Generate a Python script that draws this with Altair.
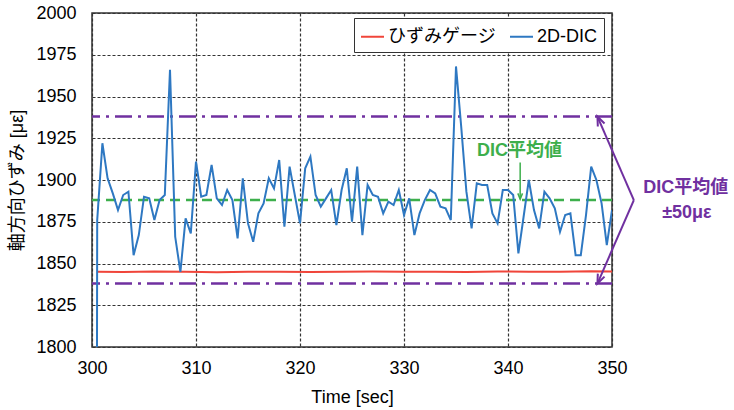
import altair as alt
import pandas as pd

# ---------------- data ----------------
# 2D-DIC axial strain, sampled every 0.5 s from 300.0 s to 350.0 s
dic_value = [
    0, 1876, 1922, 1901, 1892, 1882, 1891, 1893, 1855, 1867,      # 300.0-304.5
    1890, 1889, 1876, 1888, 1891, 1966, 1866, 1845, 1877, 1868,   # 305.0-309.5
    1911, 1890, 1891, 1909, 1889, 1885, 1894, 1888, 1865, 1901,   # 310.0-314.5
    1874, 1863, 1880, 1886, 1901, 1895, 1912, 1872, 1908, 1891,   # 315.0-319.5
    1874, 1907, 1914, 1891, 1884, 1889, 1894, 1873, 1894, 1907,   # 320.0-324.5
    1875, 1908, 1867, 1897, 1891, 1890, 1880, 1887, 1885, 1894,   # 325.0-329.5
    1879, 1889, 1867, 1880, 1888, 1894, 1892, 1884, 1883, 1876,   # 330.0-334.5
    1968, 1932, 1893, 1871, 1898, 1897, 1897, 1880, 1874, 1894,   # 335.0-339.5
    1894, 1891, 1856, 1878, 1900, 1882, 1871, 1893, 1889, 1883,   # 340.0-344.5
    1869, 1879, 1880, 1855, 1855, 1879, 1908, 1900, 1886, 1861,   # 345.0-349.5
    1882,                                                         # 350.0
]
dic_time = [300.0 + 0.5 * i for i in range(len(dic_value))]

# strain gauge
gauge_time = [300.5, 303, 306, 309, 312, 315, 318, 321, 324, 327,
              330, 333, 336, 339, 342, 345, 348, 350]
gauge_value = [1845.1, 1844.9, 1845.2, 1845.0, 1844.8, 1845.1, 1845.0, 1844.9, 1845.1, 1845.2,
               1845.0, 1845.1, 1844.9, 1845.2, 1845.1, 1845.0, 1845.3, 1845.2]

series_names = ["ひずみゲージ", "2D-DIC"]
series_colors = ["#f0453a", "#2e78c2"]

dic_mean = 1888
band = 50

x_ticks = [300, 310, 320, 330, 340, 350]
y_ticks = [1800, 1825, 1850, 1875, 1900, 1925, 1950, 1975, 2000]

# annotation texts / anchor positions (data units)
band_label = ["DIC平均値", "±50με"]
band_label_x = [357.1, 357.2]
band_label_y = [1895, 1880]
band_arrow_from = (352.1, dic_mean)
band_arrow_to_x = [348.6, 348.6]
band_arrow_to_y = [dic_mean + band, dic_mean - band]
band_arrow_angle = [336, 204]

mean_label = "DIC平均値"
mean_label_pos = (341.1, 1917.5)
mean_arrow_x = 341.17
mean_arrow_y = [1910.5, dic_mean + 0.5]

# ---------------- styling ----------------
FONT = "Liberation Sans, Noto Sans CJK JP, sans-serif"
GREEN = "#3daf4c"
PURPLE = "#7030a0"

line_df = pd.concat([
    pd.DataFrame({"t": gauge_time, "v": gauge_value, "series": series_names[0]}),
    pd.DataFrame({"t": dic_time, "v": dic_value, "series": series_names[1]}),
], ignore_index=True)

xscale = alt.Scale(domain=[300, 350], nice=False, zero=False)
yscale = alt.Scale(domain=[1800, 2000], nice=False, zero=False)

x_axis = alt.Axis(values=x_ticks, title="Time [sec]", format="d", labelFlush=False)
y_axis = alt.Axis(values=y_ticks, title="軸方向ひずみ [με]", format="d", labelFlush=False)

lines = alt.Chart(line_df).mark_line(clip=True, strokeWidth=2).encode(
    x=alt.X("t:Q", scale=xscale, axis=x_axis),
    y=alt.Y("v:Q", scale=yscale, axis=y_axis),
    color=alt.Color(
        "series:N",
        scale=alt.Scale(domain=series_names, range=series_colors),
        legend=alt.Legend(
            title=None, orient="none", legendX=262, legendY=5,
            direction="horizontal", symbolType="stroke", symbolSize=529,
            symbolStrokeWidth=2, labelFontSize=18, labelFont=FONT,
            labelColor="black", padding=6, columnPadding=10, labelOffset=3,
            strokeColor="#333333", fillColor="white", cornerRadius=0,
        ),
    ),
)

mean_rule = alt.Chart(pd.DataFrame({"v": [dic_mean]})).mark_rule(
    color=GREEN, strokeDash=[10, 6], strokeWidth=2.5
).encode(y=alt.Y("v:Q", scale=yscale))

band_rule = alt.Chart(pd.DataFrame({"v": [dic_mean + band, dic_mean - band]})).mark_rule(
    color=PURPLE, strokeDash=[17, 6, 3, 6], strokeWidth=2.5
).encode(y=alt.Y("v:Q", scale=yscale))

arrow_df = pd.DataFrame({
    "x": [band_arrow_from[0]] * 2,
    "y": [band_arrow_from[1]] * 2,
    "x2": band_arrow_to_x,
    "y2": band_arrow_to_y,
    "angle": band_arrow_angle,
})
band_arrows = alt.Chart(arrow_df).mark_rule(color=PURPLE, strokeWidth=2, clip=False).encode(
    x=alt.X("x:Q", scale=xscale), y=alt.Y("y:Q", scale=yscale), x2="x2:Q", y2="y2:Q"
)
HEAD = "M-0.6,1.5L0,0L0.6,1.5"
band_heads = alt.Chart(arrow_df).mark_point(
    shape=HEAD, size=150, filled=False, strokeWidth=2, color=PURPLE, opacity=1, clip=False
).encode(
    x=alt.X("x2:Q", scale=xscale), y=alt.Y("y2:Q", scale=yscale),
    angle=alt.Angle("angle:Q", scale=None),
)

band_text = alt.Chart(pd.DataFrame({
    "x": band_label_x, "y": band_label_y, "label": band_label
})).mark_text(
    font=FONT, fontSize=18, fontWeight="bold", color=PURPLE, align="center", baseline="middle"
).encode(x=alt.X("x:Q", scale=xscale), y=alt.Y("y:Q", scale=yscale), text="label:N")

mean_arrow_df = pd.DataFrame({
    "x": [mean_arrow_x], "y": [mean_arrow_y[0]], "x2": [mean_arrow_x], "y2": [mean_arrow_y[1]], "angle": [180]
})
mean_arrow = alt.Chart(mean_arrow_df).mark_rule(color=GREEN, strokeWidth=1.5).encode(
    x=alt.X("x:Q", scale=xscale), y=alt.Y("y:Q", scale=yscale), x2="x2:Q", y2="y2:Q"
)
mean_head = alt.Chart(mean_arrow_df).mark_point(
    shape=HEAD, size=60, filled=False, strokeWidth=1.5, color=GREEN, opacity=1
).encode(
    x=alt.X("x2:Q", scale=xscale), y=alt.Y("y2:Q", scale=yscale),
    angle=alt.Angle("angle:Q", scale=None),
)
mean_text = alt.Chart(pd.DataFrame({
    "x": [mean_label_pos[0]], "y": [mean_label_pos[1]], "label": [mean_label]
})).mark_text(
    font=FONT, fontSize=18, fontWeight="bold", color=GREEN, align="center", baseline="middle"
).encode(x=alt.X("x:Q", scale=xscale), y=alt.Y("y:Q", scale=yscale), text="label:N")

chart = alt.layer(
    mean_rule, band_rule, lines, band_arrows, band_heads, band_text,
    mean_arrow, mean_head, mean_text,
).properties(
    width=520, height=334,
    autosize=alt.AutoSizeParams(type="none"),
    padding={"left": 92, "top": 13, "right": 122, "bottom": 63},
    background="white",
).configure_view(
    stroke="#333333", strokeWidth=1.5
).configure_axis(
    grid=True, gridColor="#333333", gridDash=[3, 2], gridWidth=1.2,
    ticks=False, domain=False,
    labelFont=FONT, labelFontSize=18, labelColor="black",
    titleFont=FONT, titleFontSize=18, titleColor="black", titleFontWeight="normal",
).configure_axisY(
    labelPadding=16, titlePadding=9,
).configure_axisX(
    labelPadding=12, titlePadding=11,
)

chart.save("out.html", embed_options={"renderer": "svg", "actions": False})
